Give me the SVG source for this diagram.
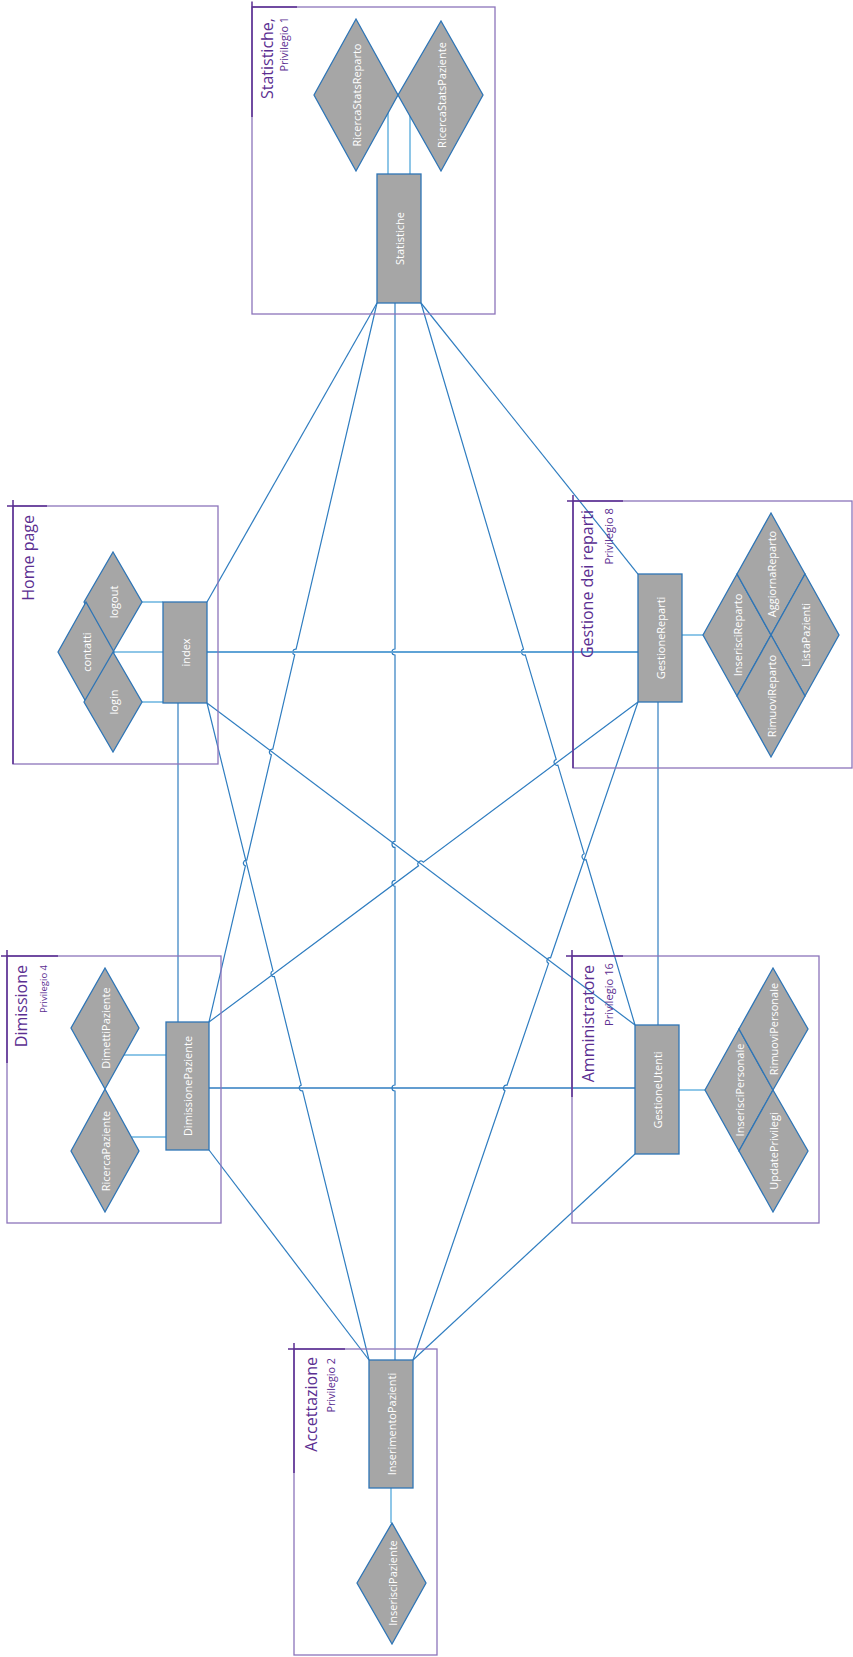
<svg xmlns="http://www.w3.org/2000/svg" width="853" height="1657" viewBox="0 0 853 1657">
<style>
.box{fill:none;stroke:#8c74ba;stroke-width:1.3}
.mark{fill:none;stroke:#5b2e91;stroke-width:1.5}
.title{font-family:"Open Sans","Noto Sans",sans-serif;fill:#5b2e91;font-size:16px;text-anchor:end}
.priv{font-family:"Open Sans","Noto Sans",sans-serif;fill:#5b2e91;font-size:11px;text-anchor:end}
.ent{fill:#a6a6a6;stroke:#2e75b6;stroke-width:1.3}
.lbl{font-family:"Open Sans","Noto Sans",sans-serif;fill:#ffffff;font-size:11px;text-anchor:middle;dominant-baseline:central}
.con{fill:none;stroke:#2f7dc0;stroke-width:1.2}
.hz{fill:none;stroke:#5fa3d6;stroke-width:2}
.att{fill:none;stroke:#6ab4e0;stroke-width:1.5}
</style>
<rect width="853" height="1657" fill="#ffffff"/>

<g id="connectors">
<path class="con" d="M377,303 L207,602"/>
<path class="con" d="M377,303 L296.1,649.1 A3,3 0 0 0 294.7,654.9 L272.8,749.1 A3,3 0 0 0 271.4,754.9 L246.8,860.1 A3,3 0 0 0 245.4,865.9 L209,1022"/>
<path class="con" d="M395,303 L395,649 A3,3 0 0 0 395,655 L395,841.4 A3,3 0 0 0 395,847.4 L395,880.3 A3,3 0 0 0 395,886.3 L395,1085 A3,3 0 0 0 395,1091 L395,1360"/>
<path class="con" d="M421,303 L638,574"/>
<path class="con" d="M421,303 L523.5,649.1 A3,3 0 0 0 525.3,654.9 L556.2,759.4 A3,3 0 0 0 557.9,765.2 L584.2,853.8 A3,3 0 0 0 586,859.6 L635,1025"/>
<path class="hz" d="M207,652 L638,652"/>
<path class="con" d="M207,703 L635,1025"/>
<path class="con" d="M207,703 L273,970.8 A3,3 0 0 0 274.4,976.6 L301.2,1085.1 A3,3 0 0 0 302.6,1090.9 L369,1360"/>
<path class="con" d="M178,703 L178,1022"/>
<path class="con" d="M638,702 L423.3,862.2 A3,3 0 0 0 418.5,865.8 L209,1022"/>
<path class="con" d="M638,702 L550.6,957.8 A3,3 0 0 0 548.6,963.4 L507,1085.2 A3,3 0 0 0 505,1090.8 L413,1360"/>
<path class="con" d="M658,702 L658,1025"/>
<path class="con" d="M209,1088 L635,1088" style="stroke-width:1.6"/>
<path class="con" d="M209,1150 L369,1360"/>
<path class="con" d="M635,1154 L413,1360"/>
<path class="att" d="M388,113 L388,174 M410,116 L410,174"/>
<path class="att" d="M142,602 L163,602 M113,652 L163,652 M142,702 L163,702"/>
<path class="att" d="M682,635 L703,635"/>
<path class="att" d="M124,1055 L166,1055 M131.5,1137 L166,1137"/>
<path class="att" d="M679,1090 L705,1090"/>
<path class="att" d="M391,1488 L391,1523"/>
</g>

<g id="statistiche">
<rect class="box" x="252" y="7" width="243" height="307"/>
<path class="mark" d="M252,1.5 L252,117 M252,7 L297,7"/>
<text class="title" x="273" y="18" transform="rotate(-90 273 18)">Statistiche,</text>
<text class="priv" x="288" y="17" transform="rotate(-90 288 17)" style="font-size:10.8px">Privilegio 1</text>
<g id="RicercaStatsReparto"><polygon class="ent" points="314,95 356,19 398,95 356,171"/><text class="lbl" x="356" y="95" transform="rotate(-90 356 95)">RicercaStatsReparto</text></g>
<g id="RicercaStatsPaziente"><polygon class="ent" points="398,95 441,21 483,95 441,171"/><text class="lbl" x="441" y="95" transform="rotate(-90 441 95)">RicercaStatsPaziente</text></g>
<g id="Statistiche"><rect class="ent" x="377" y="174" width="44" height="129"/><text class="lbl" x="399" y="238.5" transform="rotate(-90 399 238.5)">Statistiche</text></g>
</g>

<g id="homepage">
<rect class="box" x="13" y="506" width="205" height="258"/>
<path class="mark" d="M13,500 L13,764 M7,506 L47,506"/>
<text class="title" x="34" y="515" transform="rotate(-90 34 515)">Home page</text>
<g id="logout"><polygon class="ent" points="84,602 113,552 142,602 113,652"/><text class="lbl" x="113" y="602" transform="rotate(-90 113 602)">logout</text></g>
<g id="contatti"><polygon class="ent" points="58,652 86,602 114,652 86,702"/><text class="lbl" x="86" y="652" transform="rotate(-90 86 652)">contatti</text></g>
<g id="login"><polygon class="ent" points="84,702 113,652 142,702 113,752"/><text class="lbl" x="113" y="702" transform="rotate(-90 113 702)">login</text></g>
<g id="index"><rect class="ent" x="163" y="602" width="44" height="101"/><text class="lbl" x="185" y="652.5" transform="rotate(-90 185 652.5)">index</text></g>
</g>

<g id="gestionereparti">
<rect class="box" x="573" y="501" width="279" height="267"/>
<path class="mark" d="M573,495 L573,768 M567,501 L623,501"/>
<text class="title" x="593" y="510" transform="rotate(-90 593 510)">Gestione dei reparti</text>
<text class="priv" x="613" y="508" transform="rotate(-90 613 508)" style="font-size:11.2px">Privilegio 8</text>
<g id="GestioneReparti"><rect class="ent" x="638" y="574" width="44" height="128"/><text class="lbl" x="660" y="638" transform="rotate(-90 660 638)">GestioneReparti</text></g>
<g id="InserisciReparto"><polygon class="ent" points="703,635 737,574 771,635 737,696"/><text class="lbl" x="737" y="635" transform="rotate(-90 737 635)">InserisciReparto</text></g>
<g id="AggiornaReparto"><polygon class="ent" points="737,574 771,513 805,574 771,635"/><text class="lbl" x="771" y="574" transform="rotate(-90 771 574)">AggiornaReparto</text></g>
<g id="ListaPazienti"><polygon class="ent" points="771,635 805,574 839,635 805,696"/><text class="lbl" x="805" y="635" transform="rotate(-90 805 635)">ListaPazienti</text></g>
<g id="RimuoviReparto"><polygon class="ent" points="737,696 771,635 805,696 771,757"/><text class="lbl" x="771" y="696" transform="rotate(-90 771 696)">RimuoviReparto</text></g>
</g>

<g id="dimissione">
<rect class="box" x="7" y="956" width="214" height="267"/>
<path class="mark" d="M7,950 L7,1063 M1,956 L58,956"/>
<text class="title" x="27" y="965" transform="rotate(-90 27 965)">Dimissione</text>
<text class="priv" x="47" y="965" transform="rotate(-90 47 965)" style="font-size:9.5px">Privilegio 4</text>
<g id="DimettiPaziente"><polygon class="ent" points="71,1028 105,968 139,1028 105,1089"/><text class="lbl" x="105" y="1028" transform="rotate(-90 105 1028)">DimettiPaziente</text></g>
<g id="RicercaPaziente"><polygon class="ent" points="71,1151 105,1089 139,1151 105,1212"/><text class="lbl" x="105" y="1151" transform="rotate(-90 105 1151)">RicercaPaziente</text></g>
<g id="DimissionePaziente"><rect class="ent" x="166" y="1022" width="43" height="128"/><text class="lbl" x="187.5" y="1086" transform="rotate(-90 187.5 1086)">DimissionePaziente</text></g>
</g>

<g id="amministratore">
<rect class="box" x="572" y="956" width="247" height="267"/>
<path class="mark" d="M572,950 L572,1097 M566,956 L623,956"/>
<text class="title" x="594" y="965" transform="rotate(-90 594 965)">Amministratore</text>
<text class="priv" x="613" y="963" transform="rotate(-90 613 963)" style="font-size:11.2px">Privilegio 16</text>
<g id="GestioneUtenti"><rect class="ent" x="635" y="1025" width="44" height="129"/><text class="lbl" x="657" y="1090" transform="rotate(-90 657 1090)">GestioneUtenti</text></g>
<g id="InserisciPersonale"><polygon class="ent" points="705,1090 739,1029 773,1090 739,1151"/><text class="lbl" x="739" y="1090" transform="rotate(-90 739 1090)">InserisciPersonale</text></g>
<g id="RimuoviPersonale"><polygon class="ent" points="739,1029 773,968 808,1029 773,1090"/><text class="lbl" x="773" y="1029" transform="rotate(-90 773 1029)">RimuoviPersonale</text></g>
<g id="UpdatePrivilegi"><polygon class="ent" points="739,1151 773,1090 808,1151 773,1212"/><text class="lbl" x="773" y="1151" transform="rotate(-90 773 1151)">UpdatePrivilegi</text></g>
</g>

<g id="accettazione">
<rect class="box" x="294" y="1349" width="143" height="306"/>
<path class="mark" d="M294,1343 L294,1473 M288,1349 L345,1349"/>
<text class="title" x="317" y="1357" transform="rotate(-90 317 1357)">Accettazione</text>
<text class="priv" x="335" y="1358" transform="rotate(-90 335 1358)" style="font-size:10.8px">Privilegio 2</text>
<g id="InserimentoPazienti"><rect class="ent" x="369" y="1360" width="44" height="128"/><text class="lbl" x="391" y="1424" transform="rotate(-90 391 1424)">InserimentoPazienti</text></g>
<g id="InserisciPaziente"><polygon class="ent" points="357,1583 392,1523 426,1583 392,1644"/><text class="lbl" x="392" y="1583" transform="rotate(-90 392 1583)">InserisciPaziente</text></g>
</g>
</svg>
